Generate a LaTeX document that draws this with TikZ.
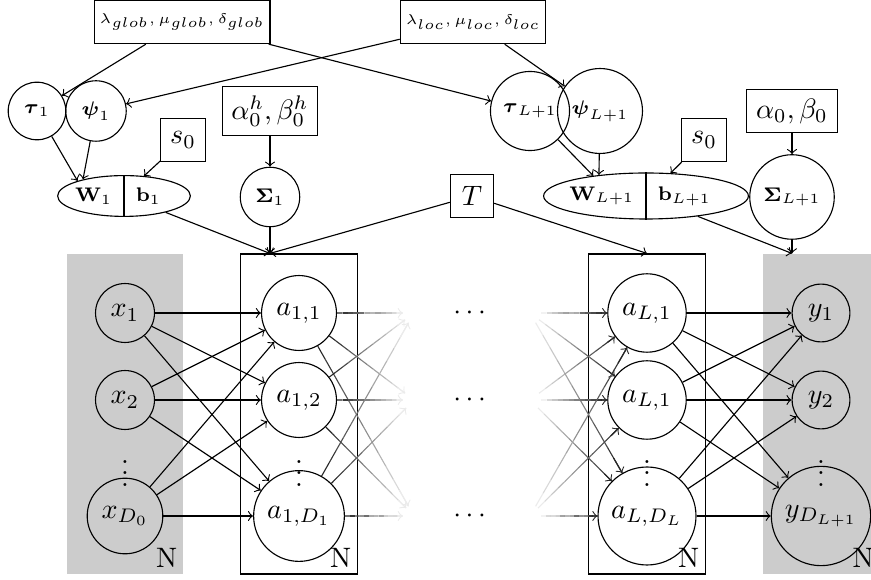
\documentclass[tikz,border=0pt]{standalone}
\usepackage{amsmath,amssymb}
\usetikzlibrary{shapes.geometric,calc,positioning}

\tikzset{
  neuron/.style={circle,draw,minimum size=0.72cm},
  param/.style={circle,draw,minimum size=0.72cm,font=\scriptsize},
  hyper/.style={rectangle,draw,minimum size=0.54cm},
  plate/.style={rectangle,minimum width=1.46cm,minimum height=4cm},
  wbox/.style={ellipse,draw,inner sep=0pt},
  wlab/.style={inner sep=4pt,font=\scriptsize},
  platelab/.style={anchor=south east,inner sep=2.2pt},
}

\begin{document}
\begin{tikzpicture}

\useasboundingbox (0,0) rectangle (10.8875,7.25);

% plates
\node[plate,fill=black!20] (px) at (1.5625,2.075) {};
\node[plate,draw] (pa1) at (3.7375,2.075) {};
\node[plate,draw] (paL) at (8.0875,2.075) {};
\node[plate,fill=black!20] (py) at (10.2688,2.075) {};
\node[platelab] (Nx) at (px.south east) {N};
\node[platelab] (Na1) at (pa1.south east) {N};
\node[platelab] (NaL) at (paL.south east) {N};
\node[platelab] (Ny) at (py.south east) {N};

% hyperparameters
\node[hyper,font=\tiny,inner sep=2pt] (lglob) at (2.275,6.975) {$\lambda_{glob}, \mu_{glob}, \delta_{glob}$};
\node[hyper,font=\tiny,inner sep=2pt] (lloc) at (5.9125,6.975) {$\lambda_{loc}, \mu_{loc}, \delta_{loc}$};

\node[param] (tau1) at (0.4625,5.8625) {$\boldsymbol{\tau}_1$};
\node[param] (psi1) at (1.2,5.8625) {$\boldsymbol{\psi}_1$};
\node[param] (tauL1) at (6.625,5.8625) {$\boldsymbol{\tau}_{L+1}$};
\node[param] (psiL1) at (7.5,5.8625) {$\boldsymbol{\psi}_{L+1}$};

\node[hyper] (ah) at (3.375,5.8625) {$\alpha_0^h, \beta_0^h$};
\node[hyper] (a0) at (9.9,5.8625) {$\alpha_0, \beta_0$};
\node[hyper] (s0a) at (2.2875,5.5) {$s_0$};
\node[hyper] (s0b) at (8.8,5.5) {$s_0$};

\node[wbox,minimum width=1.66cm,minimum height=0.51cm] (W1) at (1.55,4.8) {};
\draw (W1.north) -- (W1.south);
\node[wlab,left=0pt of W1.center] (W1w) {$\mathbf{W}_1$};
\node[wlab,right=0pt of W1.center] (W1b) {$\mathbf{b}_1$};

\node[wbox,minimum width=2.56cm,minimum height=0.575cm] (WL1) at (8.075,4.8) {};
\draw (WL1.north) -- (WL1.south);
\node[wlab,left=0pt of WL1.center] (WL1w) {$\mathbf{W}_{L+1}$};
\node[wlab,right=0pt of WL1.center] (WL1b) {$\mathbf{b}_{L+1}$};

\node[param] (S1) at (3.375,4.7875) {$\boldsymbol{\Sigma}_1$};
\node[param] (SL1) at (9.9,4.7875) {$\boldsymbol{\Sigma}_{L+1}$};
\node[hyper] (T) at (5.9,4.8) {$T$};

\coordinate (top1) at (S1 |- pa1.north);
\coordinate (topy) at (SL1 |- py.north);

\draw[->] (lglob) -- (tau1);
\draw[->] (lglob) -- (tauL1);
\draw[->] (lloc) -- (psi1);
\draw[->] (lloc) -- (psiL1);

\draw[->] (tau1) -- (W1.162);
\draw[->] (psi1) -- (W1.158);
\draw[->] (s0a) -- (W1.45);
\draw[->] (ah) -- (S1);
\draw[->] (tauL1) -- (WL1.159);
\draw[->] (psiL1) -- (WL1.156);
\draw[->] (s0b) -- (WL1.43);
\draw[->] (a0) -- (SL1);

\draw[->] (W1) -- (top1);
\draw[->] (S1) -- (top1);
\draw[->] (T) -- (top1);
\draw[->] (T) -- (paL.north);
\draw[->] (WL1) -- (topy);
\draw[->] (SL1) -- (topy);

% network
\node[neuron] (x1) at (1.5625,3.3375) {$x_1$};
\node[neuron] (x2) at (1.5625,2.25) {$x_2$};
\node[neuron] (x3) at (1.5625,0.8) {$x_{D_0}$};
\node[neuron] (a11) at (3.7375,3.3375) {$a_{1,1}$};
\node[neuron] (a12) at (3.7375,2.25) {$a_{1,2}$};
\node[neuron] (a13) at (3.7375,0.8) {$a_{1,D_1}$};
\node[neuron] (aL1) at (8.0875,3.3375) {$a_{L,1}$};
\node[neuron] (aL2) at (8.0875,2.25) {$a_{L,1}$};
\node[neuron] (aL3) at (8.0875,0.8) {$a_{L,D_L}$};
\node[neuron] (y1) at (10.2625,3.3375) {$y_1$};
\node[neuron] (y2) at (10.2625,2.25) {$y_2$};
\node[neuron] (y3) at (10.2625,0.8) {$y_{D_{L+1}}$};

\node (vx) at (1.5625,1.4375) {$\vdots$};
\node (va1) at (3.7375,1.4375) {$\vdots$};
\node (vaL) at (8.0875,1.4375) {$\vdots$};
\node (vy) at (10.2625,1.4375) {$\vdots$};
\node (d1) at (5.9,3.3375) {$\cdots$};
\node (d2) at (5.9,2.25) {$\cdots$};
\node (d3) at (5.9,0.8) {$\cdots$};

\coordinate (n1) at (5.175,3.3375);
\coordinate (n2) at (5.175,2.25);
\coordinate (n3) at (5.175,0.8);
\coordinate (m1) at (6.625,3.3375);
\coordinate (m2) at (6.625,2.25);
\coordinate (m3) at (6.625,0.8);

\foreach \i in {1,2,3} {
  \foreach \j in {1,2,3} {
    \draw[->] (x\i) -- (a1\j);
    \draw[->] (aL\i) -- (y\j);
  }
}

% fading into the hidden layers
\foreach \i in {1,2,3} {
  \foreach \j in {1,2,3} {
    \path (a1\i) -- (n\j) coordinate[pos=0] (s);
    \coordinate (f) at ($(n\j)!0.14cm!(s)$);
    \foreach \k in {0,...,11} {
      \pgfmathtruncatemacro\c{85-7*\k}
      \draw[black!\c] ($(s)!{\k/12}!(f)$) -- ($(s)!{(\k+1)/12}!(f)$);
    }
    \draw[->,black!8] ($(s)!0.9!(f)$) -- (f);
  }
}
\foreach \i in {1,2,3} {
  \foreach \j in {1,2,3} {
    \path (m\i) -- (aL\j) coordinate[pos=1] (f);
    \coordinate (s) at ($(m\i)!0.14cm!(f)$);
    \foreach \k in {0,...,11} {
      \pgfmathtruncatemacro\c{8+7*\k}
      \draw[black!\c] ($(s)!{\k/12}!(f)$) -- ($(s)!{(\k+1)/12}!(f)$);
    }
    \draw[->,black!85] ($(s)!0.9!(f)$) -- (f);
  }
}

\end{tikzpicture}
\end{document}
